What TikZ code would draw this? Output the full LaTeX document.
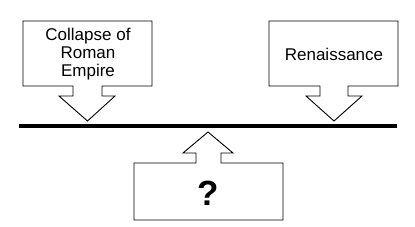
\documentclass[tikz,border=0pt]{standalone}
\usepackage{fontspec}
\setmainfont{Liberation Sans}
\begin{document}
\begin{tikzpicture}[x=1pt,y=-1pt,
  callout/.style={draw=black,line width=0.9pt,fill=white,line join=miter},
  label/.style={font=\fontsize{17}{17.7}\selectfont,align=center,inner sep=0pt},
  qmark/.style={font=\fontsize{35}{36}\selectfont\bfseries,inner sep=0pt},
  timeline/.style={line width=3.8pt,black}]
\useasboundingbox (0,0) rectangle (415,227);
% left callout
\draw[callout] (23,21) -- (152,21) -- (152,86) -- (102,86) -- (102,96) -- (115,96)
  -- (87.5,121) -- (59,96) -- (73,96) -- (73,86) -- (23,86) -- cycle;
\node[label] (collapse) at (88,54) {Collapse of\\Roman\\Empire};
% right callout
\draw[callout] (269,21) -- (398,21) -- (398,86) -- (348,86) -- (348,96) -- (362,96)
  -- (334,121) -- (306,96) -- (320,96) -- (320,86) -- (269,86) -- cycle;
\node[label] (renaissance) at (334,54) {Renaissance};
% timeline
\coordinate (tl) at (19,126);
\coordinate (tr) at (397,126);
\draw[timeline] (tl) -- (tr);
% bottom callout
\draw[callout] (134,163) -- (196,163) -- (196,153) -- (183,153) -- (208,132)
  -- (233,153) -- (221,153) -- (221,163) -- (283,163) -- (283,220) -- (134,220) -- cycle;
\node[qmark] (q) at (208.5,193) {?};
\end{tikzpicture}
\end{document}
